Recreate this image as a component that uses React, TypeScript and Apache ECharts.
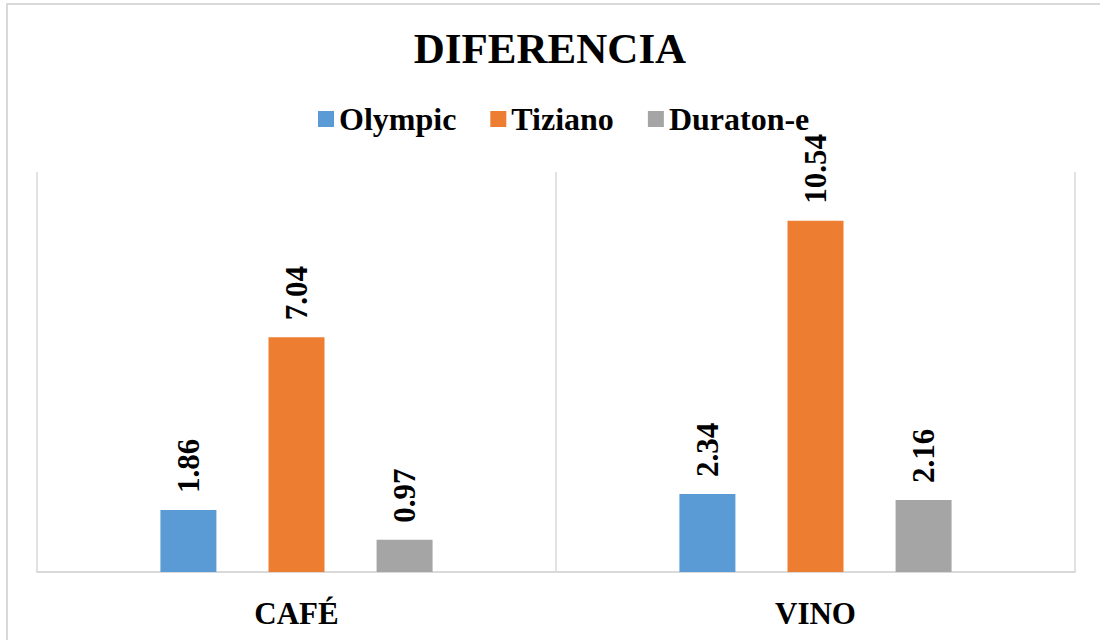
import React, { useEffect, useRef } from "react";
import * as echarts from "echarts";

const categories = ["CAFÉ", "VINO"];
const seriesNames = ["Olympic", "Tiziano", "Duraton-e"];
const olympic = [1.86, 2.34];
const tiziano = [7.04, 10.54];
const duraton = [0.97, 2.16];
const colors = ["#5B9BD5", "#ED7D31", "#A5A5A5"];

const FONT = "'Liberation Serif', 'Times New Roman', serif";

export default function App() {
  const ref = useRef<HTMLDivElement>(null);
  useEffect(() => {
    if (!ref.current) return;
    const chart = echarts.init(ref.current, undefined, { renderer: "svg" });
    const values = [olympic, tiziano, duraton];
    chart.setOption({
      animation: false,
      backgroundColor: "#ffffff",
      title: {
        text: "DIFERENCIA",
        left: "center",
        top: 22,
        textStyle: { fontFamily: FONT, fontSize: 43, fontWeight: "bold", color: "#000" },
      },
      legend: {
        data: seriesNames,
        top: 98,
        left: 313,
        icon: "rect",
        itemWidth: 16,
        itemHeight: 16,
        itemGap: 34,
        textStyle: { fontFamily: FONT, fontSize: 32, fontWeight: "bold", color: "#000" },
      },
      graphic: [
        {
          type: "rect",
          shape: { x: 7, y: 4, width: 1200, height: 800 },
          style: { fill: "none", stroke: "#d9d9d9", lineWidth: 2 },
          silent: true,
        },
      ],
      grid: { left: 37, right: 25, top: 172, bottom: 68 },
      xAxis: {
        type: "category",
        data: categories,
        boundaryGap: true,
        axisLine: { show: true, lineStyle: { color: "#d9d9d9", width: 2 } },
        axisTick: { show: false },
        splitLine: { show: true, lineStyle: { color: "#d9d9d9", width: 1.5 } },
        axisLabel: {
          margin: 26,
          fontFamily: FONT,
          fontSize: 31,
          fontWeight: "bold",
          color: "#000",
        },
      },
      yAxis: {
        type: "value",
        min: 0,
        max: 12,
        show: false,
      },
      series: seriesNames.map((name, i) => ({
        name,
        type: "bar",
        data: values[i],
        barWidth: 56,
        barGap: "93%",
        itemStyle: { color: colors[i] },
        label: {
          show: true,
          position: "top",
          rotate: 90,
          align: "left",
          verticalAlign: "middle",
          distance: 17,
          fontFamily: FONT,
          fontSize: 31,
          fontWeight: "bold",
          color: "#000",
          formatter: (p: any) => p.value.toFixed(2),
        },
      })),
    });
    return () => chart.dispose();
  }, []);
  return (
    <div
      ref={ref}
      style={{ position: "fixed", left: 0, top: 0, width: 1100, height: 640 }}
    />
  );
}
